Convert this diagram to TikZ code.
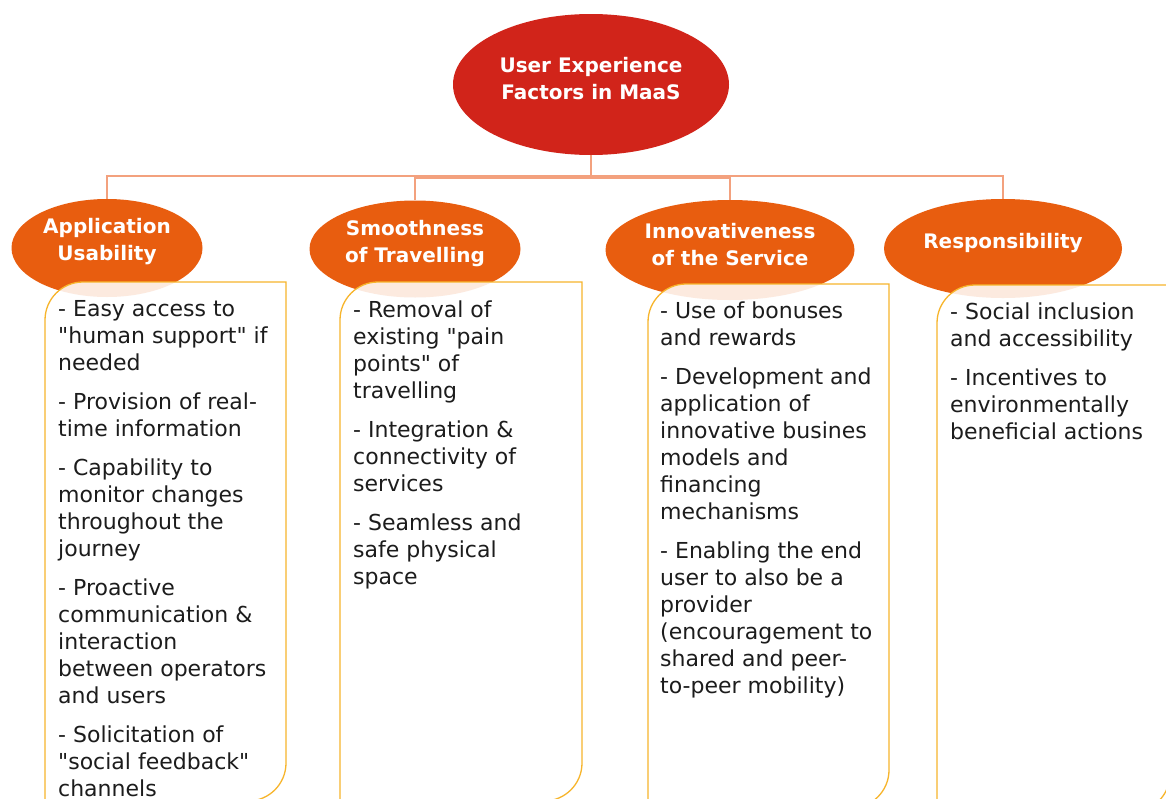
\documentclass[tikz,border=0pt]{standalone}
\usepackage{fontspec}
\setmainfont{DejaVu Sans}[Ligatures=TeXOff]
\usetikzlibrary{shapes.geometric}
\definecolor{rootred}{HTML}{D1241A}
\definecolor{catorange}{HTML}{E85D0F}
\definecolor{linkcol}{HTML}{F3A17E}
\definecolor{panelcol}{HTML}{F7B52C}
\definecolor{bodytext}{HTML}{1C1C1C}
\newcommand\uxpanel[5]{%
  \path[panelstyle] (#1,#4) -- (#1,#2+38) arc[start angle=180,end angle=90,radius=38pt]
    -- (#3,#2) -- (#3,#4-38) arc[start angle=0,end angle=-90,radius=38pt] -- cycle;
  \coordinate (#5) at (#1,#2);}
\tikzset{
  rootstyle/.style={ellipse, fill=rootred, inner sep=0pt},
  catstyle/.style={ellipse, fill=catorange, inner sep=0pt},
  headtext/.style={text=white, font=\bfseries\fontsize{20}{27}\selectfont, align=center, inner sep=0pt},
  link/.style={draw=linkcol, line width=1.5pt},
  panelstyle/.style={draw=panelcol, line width=1.3pt, fill=white, fill opacity=0.87},
  bodystyle/.style={text=bodytext, font=\fontsize{22}{27}\selectfont, align=left, anchor=north west, inner sep=0pt}
}
\begin{document}
\begin{tikzpicture}[x=1pt,y=-1pt]
\useasboundingbox (0,0) rectangle (1166,798);
\clip (0,0) rectangle (1166,798);
\fill[white] (0,0) rectangle (1166,798);

% ellipses
\node[rootstyle, minimum width=276pt, minimum height=141pt] (root) at (591,84.5) {};
\node[catstyle, minimum width=191pt, minimum height=98pt] (c1) at (107,248) {};
\node[catstyle, minimum width=211pt, minimum height=97pt] (c2) at (415,249) {};
\node[catstyle, minimum width=249pt, minimum height=100pt] (c3) at (730,250) {};
\node[catstyle, minimum width=238pt, minimum height=99pt] (c4) at (1003,248.5) {};

% connectors
\draw[link] (root.south) -- (591,176) -| (c1.north);
\draw[link] (root.south) -- (591,178) -| (c2.north);
\draw[link] (root.south) -- (591,178) -| (c3.north);
\draw[link] (root.south) -- (591,176) -| (c4.north);

% heading texts
\node[headtext] (t0) at (591,79) {User Experience\\Factors in MaaS};
\node[headtext] (t1) at (107,242) {Application\\Usability};
\node[headtext] (t2) at (415,244) {Smoothness\\of Travelling};
\node[headtext] (t3) at (730,244.5) {Innovativeness\\of the Service};
\node[headtext] (t4) at (1003,243) {Responsibility};

% panels
\uxpanel{45}{282}{286}{801}{p1}
\uxpanel{340}{282}{582}{801}{p2}
\uxpanel{648}{284}{889}{808}{p3}
\uxpanel{937}{285}{1170}{812}{p4}

% panel texts
\node[bodystyle] (b1) at (58,297.6) {\strut- Easy access to\\"human support" if\\needed\\[12pt]
- Provision of real-\\time information\\[12pt]
- Capability to\\monitor changes\\throughout the\\journey\\[12pt]
- Proactive\\communication \&\\interaction\\between operators\\and users\\[12pt]
- Solicitation of\\"social feedback"\\channels};
\node[bodystyle] (b2) at (353,298.1) {\strut- Removal of\\existing "pain\\points" of\\travelling\\[12pt]
- Integration \&\\connectivity of\\services\\[12pt]
- Seamless and\\safe physical\\space};
\node[bodystyle] (b3) at (660,299.6) {\strut- Use of bonuses\\and rewards\\[12pt]
- Development and\\application of\\innovative busines\\models and\\financing\\mechanisms\\[12pt]
- Enabling the end\\user to also be a\\provider\\(encouragement to\\shared and peer-\\to-peer mobility)};
\node[bodystyle] (b4) at (950,300.6) {\strut- Social inclusion\\and accessibility\\[12pt]
- Incentives to\\environmentally\\beneficial actions};
\end{tikzpicture}
\end{document}
